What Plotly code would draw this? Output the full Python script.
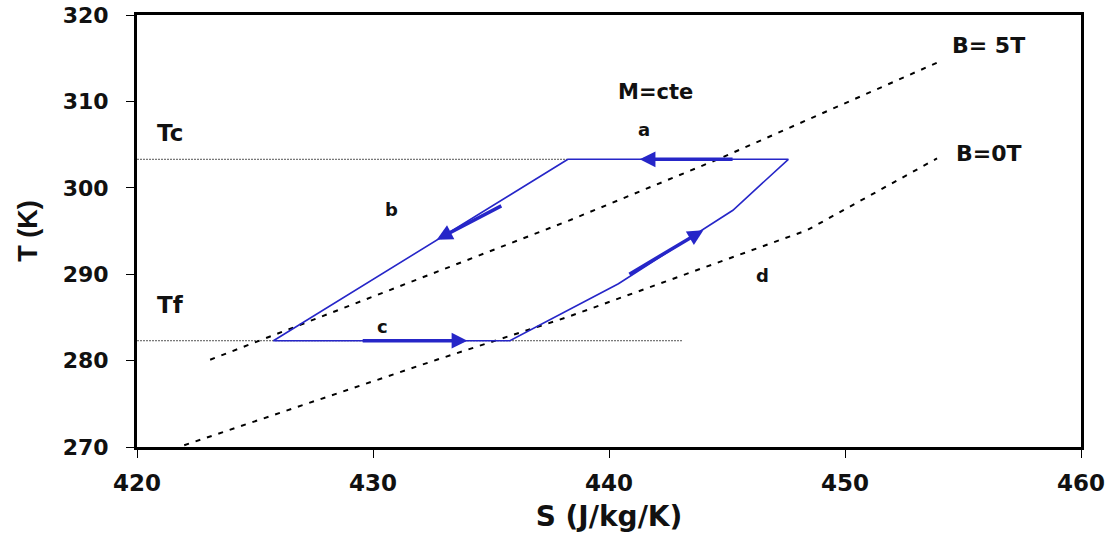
import plotly.graph_objects as go

# ---- data ----
cycle_S = [438.26, 447.6, 445.25, 440.4, 435.8, 425.78, 438.26]
cycle_T = [303.3, 303.3, 297.4, 288.9, 282.3, 282.3, 303.3]

b5_S = [423.1, 438.3, 444.7, 454.0]
b5_T = [280.1, 296.2, 303.4, 314.6]

b0_S = [422.0, 432.7, 438.2, 448.4, 453.9]
b0_T = [270.2, 280.1, 285.0, 295.1, 303.4]

Tc_S = [420.0, 438.26]
Tc_T = [303.3, 303.3]
Tf_S = [420.0, 443.1]
Tf_T = [282.3, 282.3]

# arrows: (tail S, tail T, head S, head T)
arrows = [
    (445.3, 303.3, 441.3, 303.3),   # a
    (435.5, 298.0, 432.7, 294.0),   # b
    (429.5, 282.3, 434.0, 282.3),   # c
    (440.8, 289.9, 444.0, 295.1),   # d
]

labels_text = ["M=cte", "a", "b", "c", "d", "Tc", "Tf", "B= 5T", "B=0T"]
labels_S = [441.95, 441.5, 430.8, 430.4, 446.5, 421.4, 421.4, 456.1, 456.1]
labels_T = [311.1, 306.8, 297.5, 283.9, 289.9, 306.3, 286.4, 316.5, 304.0]
labels_size = [21, 18, 18, 18, 18, 23, 23, 22, 22]

x_ticks = [420, 430, 440, 450, 460]
y_ticks = [270, 280, 290, 300, 310, 320]

BLUE = "#2626c8"
FONT = "DejaVu Sans, Liberation Sans, sans-serif"

fig = go.Figure()

fig.add_trace(go.Scatter(x=Tc_S, y=Tc_T, mode="lines",
                         line=dict(color="#555555", width=1, dash="2px,1px")))
fig.add_trace(go.Scatter(x=Tf_S, y=Tf_T, mode="lines",
                         line=dict(color="#555555", width=1, dash="2px,1px")))
fig.add_trace(go.Scatter(x=b5_S, y=b5_T, mode="lines",
                         line=dict(color="black", width=2, dash="5px,7px")))
fig.add_trace(go.Scatter(x=b0_S, y=b0_T, mode="lines",
                         line=dict(color="black", width=2, dash="5px,7px")))
fig.add_trace(go.Scatter(x=cycle_S, y=cycle_T, mode="lines",
                         line=dict(color=BLUE, width=1.6)))

annotations = []
for (ts, tt, hs, ht) in arrows:
    annotations.append(dict(x=hs, y=ht, ax=ts, ay=tt, xref="x", yref="y",
                            axref="x", ayref="y", text="", showarrow=True,
                            arrowhead=2, arrowsize=0.9, arrowwidth=3.5,
                            arrowcolor=BLUE))
for t, s, v, sz in zip(labels_text, labels_S, labels_T, labels_size):
    annotations.append(dict(x=s, y=v, xref="x", yref="y", text=t,
                            showarrow=False, xanchor="center", yanchor="middle",
                            font=dict(family=FONT, size=sz, color="#111111", weight="bold")))

fig.update_layout(
    width=1116, height=533,
    margin=dict(l=137, r=35, t=15, b=86, autoexpand=False),
    paper_bgcolor="white", plot_bgcolor="white",
    showlegend=False,
    annotations=annotations,
    font=dict(family=FONT, color="#111111"),
)
fig.update_xaxes(range=[420, 460], tickvals=x_ticks, ticks="outside", ticklen=8,
                 tickwidth=1, tickcolor="black", showline=True, linecolor="black",
                 linewidth=3, mirror=True, showgrid=False, zeroline=False,
                 automargin=False, ticklabelstandoff=5,
                 tickfont=dict(family=FONT, size=23, weight="bold", color="#111111"),
                 title=dict(text="S (J/kg/K)", standoff=12,
                            font=dict(family=FONT, size=28, weight="bold", color="#111111")))
fig.update_yaxes(range=[270, 320], tickvals=y_ticks, ticks="outside", ticklen=8,
                 tickwidth=1, tickcolor="black", showline=True, linecolor="black",
                 linewidth=3, mirror=True, showgrid=False, zeroline=False,
                 automargin=False, ticklabelstandoff=13,
                 tickfont=dict(family=FONT, size=22, weight="bold", color="#111111"),
                 title=dict(text="T (K)", standoff=18,
                            font=dict(family="Liberation Sans, Arial, sans-serif",
                                      size=27, weight="bold", color="#111111")))

fig.write_html("out.html")
